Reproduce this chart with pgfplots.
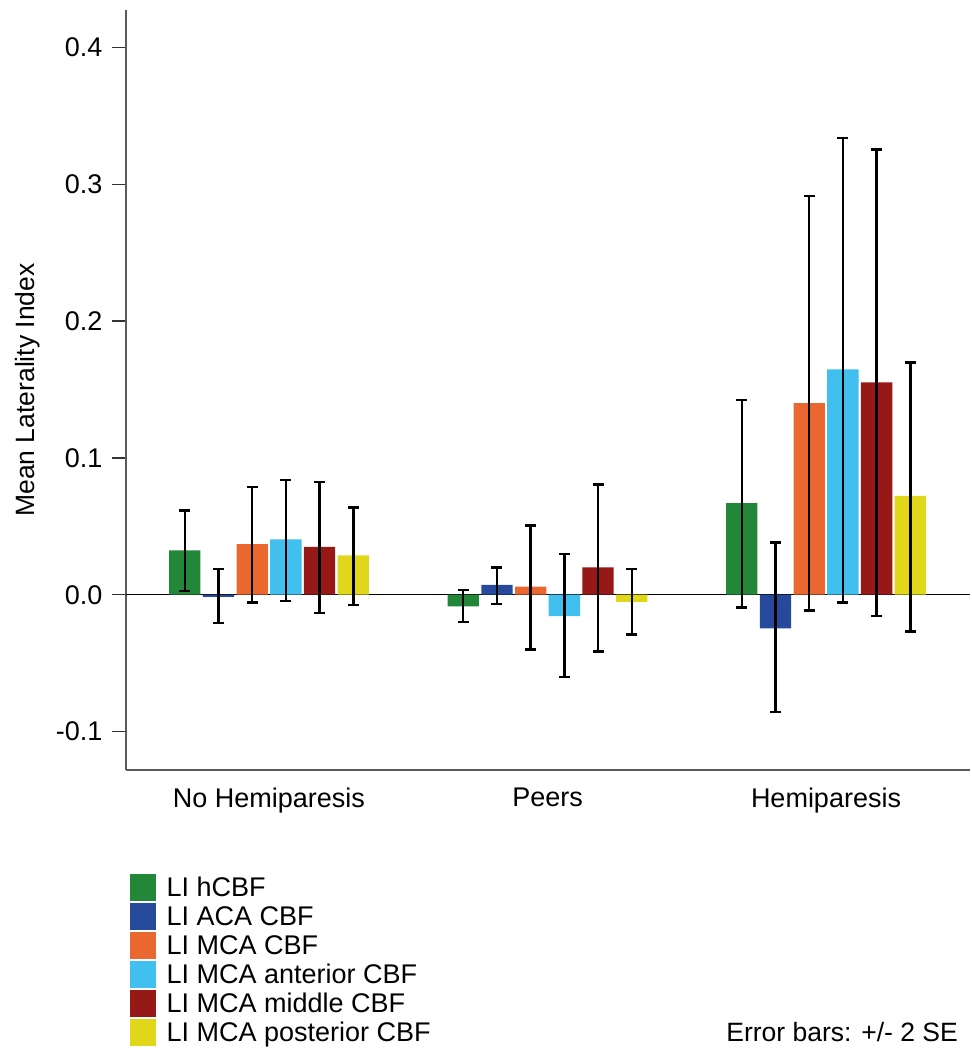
\documentclass[border=0pt]{standalone}
\usepackage{fontspec}
\setmainfont{Liberation Sans}
\usepackage{pgfplots}
\pgfplotsset{compat=1.18}
\definecolor{cgreen}{RGB}{35,135,58}
\definecolor{cblue}{RGB}{38,73,155}
\definecolor{corange}{RGB}{234,103,47}
\definecolor{ccyan}{RGB}{65,191,238}
\definecolor{cred}{RGB}{150,24,23}
\definecolor{cyellow}{RGB}{224,215,26}
\pgfplotsset{
  sw/.style={legend image code/.code={\fill[fill=#1] (0pt,-13.5pt) rectangle (26pt,13.5pt);}},
}
\begin{document}
\begin{tikzpicture}
\useasboundingbox (0,0) rectangle (971pt,1059pt);
\begin{axis}[
  at={(126pt,289pt)}, anchor=south west,
  scale only axis, width=844pt, height=760pt,
  xmin=-0.5135, xmax=2.517, ymin=-0.1281, ymax=0.4274,
  ybar, bar width=0.1124,
  axis x line*=bottom, axis y line*=left,
  axis line style={draw=black!65, line width=1.5pt},
  xtick={0,1,2}, xticklabels={No Hemiparesis, Peers, Hemiparesis},
  x tick style={draw=none},
  ytick={-0.1,0,0.1,0.2,0.3,0.4},
  y tick style={black!80, line width=1.5pt},
  tick align=outside, major tick length=14pt,
  yticklabel style={xshift=-6pt, /pgf/number format/.cd, fixed, fixed zerofill, precision=1, assume math mode=true},
  extra y ticks={0}, extra y tick labels={},
  extra y tick style={grid=major, major grid style={black, line width=1.3pt}, major tick length=0pt},
  tick label style={font=\fontsize{27}{32}\selectfont},
  ylabel={Mean Laterality Index},
  ylabel style={font=\fontsize{26.5}{30}\selectfont, at={(axis description cs:-0.1165,0.5)}, anchor=center},
  legend style={at={(0.0047,-0.1365)}, anchor=north west, draw=none, fill=none,
    font=\fontsize{27}{30}\selectfont, row sep=2pt, inner sep=0pt, nodes={inner sep=0.5pt},
    /tikz/every odd column/.append style={column sep=10pt}},
  legend cell align=left,
  error bars/y dir=both, error bars/y explicit,
  error bars/error bar style={black, line width=2.4pt},
  error bars/error mark options={rotate=90, mark size=5.5pt, line width=2.4pt, black},
]
\addplot[fill=cgreen, draw=none, bar shift=-0.3027, sw=cgreen] coordinates {
  (0,0.0325) += (0,0.0292) -= (0,0.0298)
  (1,-0.0085) += (0,0.0119) -= (0,0.0115)
  (2,0.067) += (0,0.0755) -= (0,0.0762)
};
\addplot[fill=cblue, draw=none, bar shift=-0.1816, sw=cblue] coordinates {
  (0,-0.0015) += (0,0.0205) -= (0,0.019)
  (1,0.0073) += (0,0.0127) -= (0,0.0139)
  (2,-0.0245) += (0,0.0627) -= (0,0.0612)
};
\addplot[fill=corange, draw=none, bar shift=-0.0605, sw=corange] coordinates {
  (0,0.037) += (0,0.0417) -= (0,0.0426)
  (1,0.0059) += (0,0.0448) -= (0,0.0459)
  (2,0.140) += (0,0.1516) -= (0,0.1514)
};
\addplot[fill=ccyan, draw=none, bar shift=0.0605, sw=ccyan] coordinates {
  (0,0.0405) += (0,0.0435) -= (0,0.0449)
  (1,-0.0156) += (0,0.0454) -= (0,0.0446)
  (2,0.1648) += (0,0.169) -= (0,0.1704)
};
\addplot[fill=cred, draw=none, bar shift=0.1816, sw=cred] coordinates {
  (0,0.035) += (0,0.0476) -= (0,0.0482)
  (1,0.020) += (0,0.0607) -= (0,0.0614)
  (2,0.1553) += (0,0.170) -= (0,0.171)
};
\addplot[fill=cyellow, draw=none, bar shift=0.3027, sw=cyellow] coordinates {
  (0,0.0288) += (0,0.0351) -= (0,0.0363)
  (1,-0.0053) += (0,0.0243) -= (0,0.0237)
  (2,0.0722) += (0,0.0975) -= (0,0.099)
};
\legend{LI hCBF, LI ACA CBF, LI MCA CBF, LI MCA anterior CBF, LI MCA middle CBF, LI MCA posterior CBF}
\end{axis}
\node[anchor=base east, inner sep=0pt, font=\fontsize{26.5}{30}\selectfont] at (958pt,17pt) {Error bars: +/- 2 SE};
\end{tikzpicture}
\end{document}
